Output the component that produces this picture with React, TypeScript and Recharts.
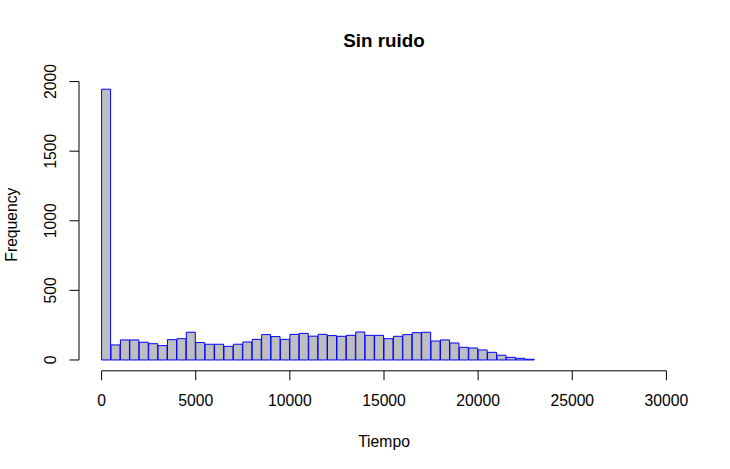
import React from "react"
import { BarChart, Bar, XAxis, YAxis, ReferenceLine } from "recharts"

// histogram bins of 500 (start of each bin) and counts
const binStart = [
  0, 500, 1000, 1500, 2000, 2500, 3000, 3500, 4000, 4500,
  5000, 5500, 6000, 6500, 7000, 7500, 8000, 8500, 9000, 9500,
  10000, 10500, 11000, 11500, 12000, 12500, 13000, 13500, 14000, 14500,
  15000, 15500, 16000, 16500, 17000, 17500, 18000, 18500, 19000, 19500,
  20000, 20500, 21000, 21500, 22000, 22500,
]
const counts = [
  1945, 108, 144, 144, 127, 117, 103, 146, 153, 199,
  125, 113, 113, 98, 113, 129, 148, 182, 168, 148,
  184, 191, 171, 184, 175, 170, 177, 201, 177, 177,
  153, 170, 182, 196, 199, 136, 144, 122, 91, 86,
  72, 55, 34, 19, 12, 5,
]
const binWidth = 500
const xTicks = [0, 5000, 10000, 15000, 20000, 25000, 30000]
const yTicks = [0, 500, 1000, 1500, 2000]
const xDomain = [-1200, 31200]
const yDomain = [-77.8, 2022.8]

const title = "Sin ruido"
const xLabel = "Tiempo"
const yLabel = "Frequency"

const FONT = "'Liberation Sans', Arial, sans-serif"
const FS = 15.7

const data = binStart.map((s, i) => ({ mid: s + binWidth / 2, count: counts[i] }))

const XTick = (props: any) => {
  const { x, payload } = props
  return (
    <text x={x} y={406} textAnchor="middle" fontFamily={FONT} fontSize={FS} fill="#000">
      {payload.value}
    </text>
  )
}

const YTick = (props: any) => {
  const { y, payload } = props
  const bx = 55.7
  return (
    <text
      x={bx}
      y={y}
      textAnchor="middle"
      transform={`rotate(-90, ${bx}, ${y})`}
      fontFamily={FONT}
      fontSize={FS}
      fill="#000"
    >
      {payload.value}
    </text>
  )
}

export default function App() {
  return (
    <div style={{ position: "absolute", left: 0, top: 0, width: 730, height: 469, background: "#fff" }}>
      <BarChart
        width={730}
        height={469}
        data={data}
        margin={{ top: 78.4, right: 41, bottom: 0, left: 0 }}
        barCategoryGap={0}
        barGap={0}
      >
        <XAxis
          dataKey="mid"
          type="number"
          domain={xDomain}
          ticks={xTicks}
          interval={0}
          allowDataOverflow
          height={98.2}
          axisLine={false}
          tickLine={{ stroke: "#000" }}
          tickSize={9.5}
          tick={<XTick />}
        />
        <YAxis
          type="number"
          domain={yDomain}
          ticks={yTicks}
          interval={0}
          allowDataOverflow
          width={79}
          axisLine={false}
          tickLine={{ stroke: "#000" }}
          tickSize={9.5}
          tick={<YTick />}
        />
        <ReferenceLine
          segment={[{ x: 0, y: yDomain[0] }, { x: 30000, y: yDomain[0] }]}
          stroke="#000"
          ifOverflow="visible"
        />
        <ReferenceLine
          segment={[{ x: xDomain[0], y: 0 }, { x: xDomain[0], y: 2000 }]}
          stroke="#000"
          ifOverflow="visible"
        />
        <Bar dataKey="count" fill="#BEBEBE" stroke="#0000FF" strokeWidth={1} isAnimationActive={false} />
      </BarChart>
      <svg
        width={730}
        height={469}
        style={{ position: "absolute", left: 0, top: 0, pointerEvents: "none" }}
      >
        <text x={384} y={46.7} textAnchor="middle" fontFamily={FONT} fontSize={18.8} fontWeight="bold" fill="#000">
          {title}
        </text>
        <text x={384} y={446.7} textAnchor="middle" fontFamily={FONT} fontSize={FS} fill="#000">
          {xLabel}
        </text>
        <text
          x={16.7}
          y={224.6}
          textAnchor="middle"
          transform="rotate(-90, 16.7, 224.6)"
          fontFamily={FONT}
          fontSize={FS}
          fill="#000"
        >
          {yLabel}
        </text>
      </svg>
    </div>
  )
}
